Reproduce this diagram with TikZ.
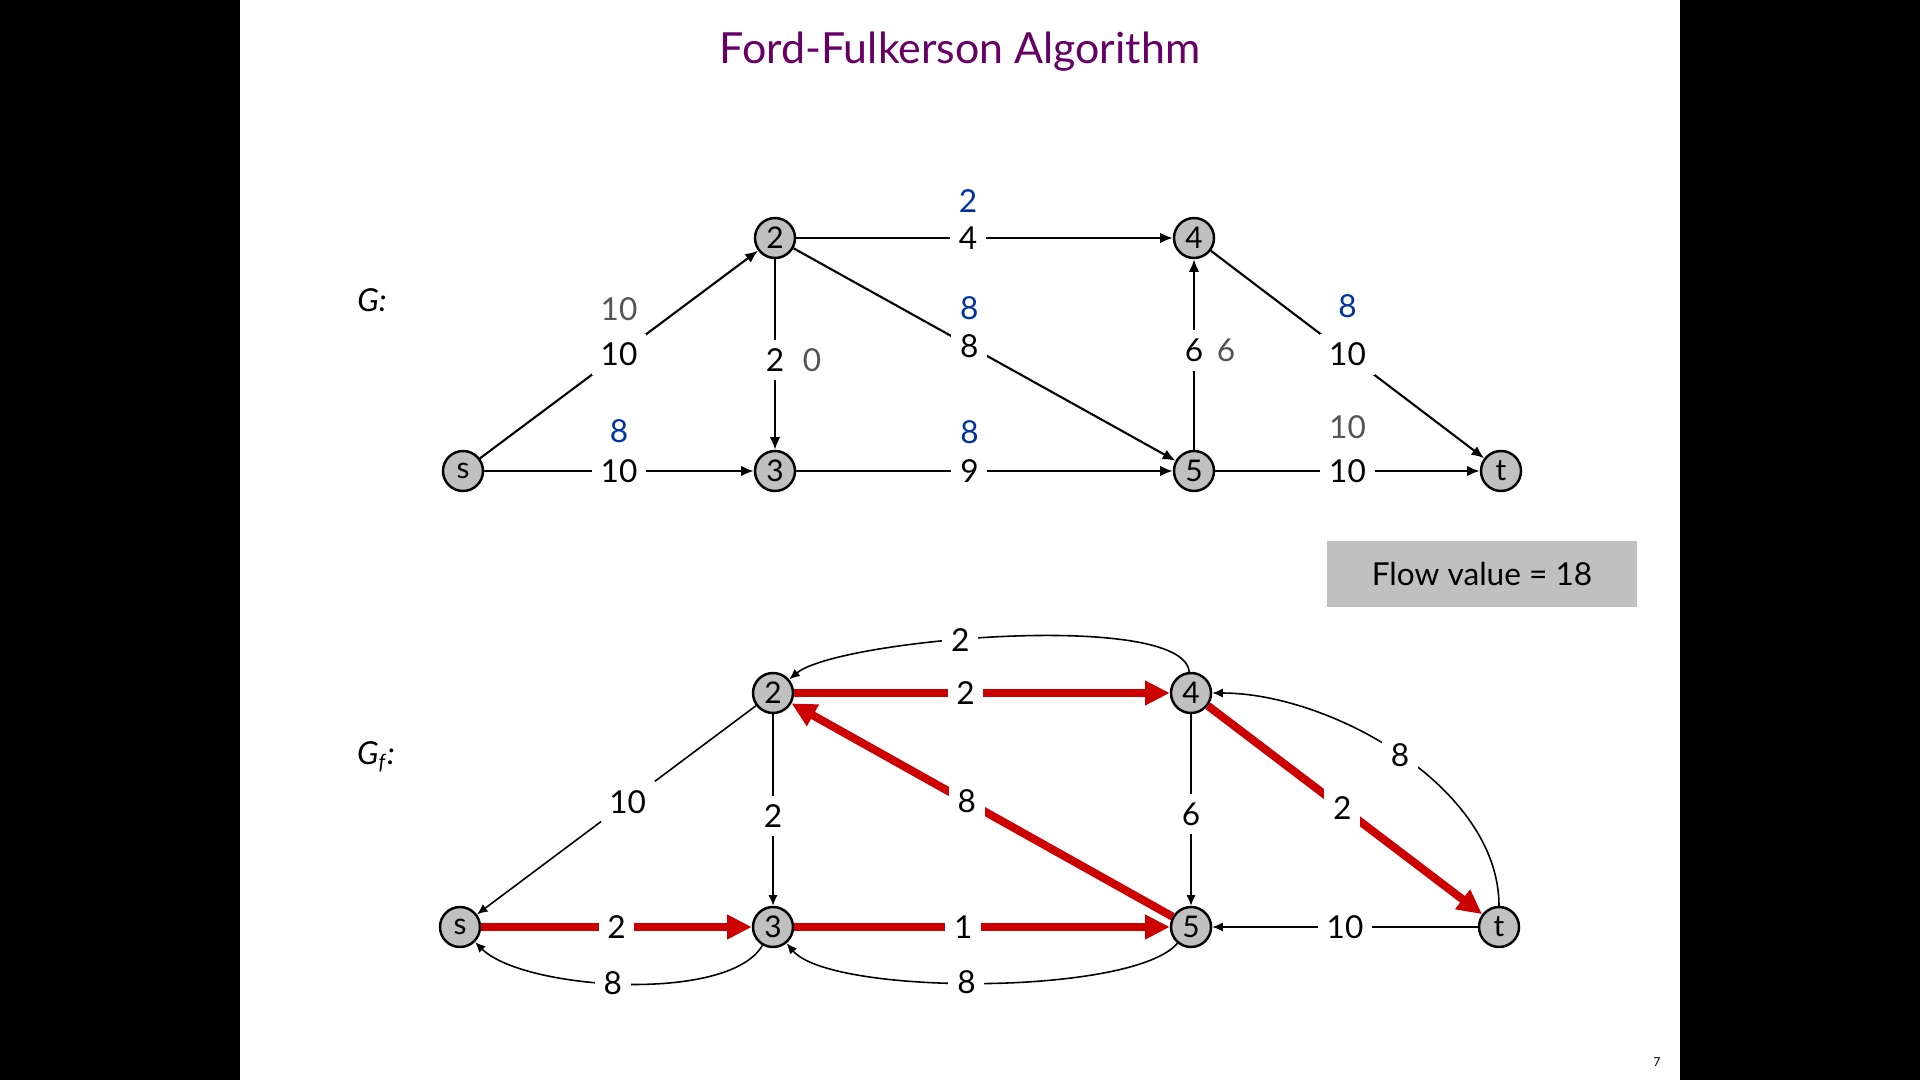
\documentclass[tikz,border=0pt]{standalone}
\usepackage{fontspec}
\setmainfont{Lato}
\usepackage{xcolor}
\usetikzlibrary{positioning,arrows.meta}
\definecolor{titlepurple}{RGB}{102,0,102}
\definecolor{flowblue}{RGB}{0,51,160}
\definecolor{flowgray}{RGB}{85,85,85}
\definecolor{nodegray}{RGB}{192,192,192}
\definecolor{pathred}{RGB}{204,0,0}

\begin{document}
\begin{tikzpicture}[
    vertex/.style={circle, draw, line width=0.7pt, fill=nodegray, minimum size=0.4cm,
      inner sep=0pt, font=\fontsize{8.5}{9}\selectfont},
    flowarc/.style={line width=0.6pt, -{Latex[length=3.6pt,width=3pt]}},
    residarc/.style={line width=0.45pt, -{Latex[length=3pt,width=2.6pt]}},
    augarc/.style={line width=2.3pt, draw=pathred, -{Triangle[length=7pt,width=6.6pt]}},
    caplabel/.style={fill=white, inner sep=2.5pt, font=\fontsize{9}{10}\selectfont},
    flowlabel/.style={on grid, font=\fontsize{9}{10}\selectfont},
  ]
  % Slide background
  \fill[black] (0,0) rectangle (19.2,-10.8);
  \fill[white] (2.4,0) rectangle (16.8,-10.8);

  % Title
  \node[font=\fontsize{12.2}{14}\selectfont, text=titlepurple] (title) at (9.6,-0.52)
    {Ford-Fulkerson Algorithm};

  % Graph G with flow
  \node[font=\fontsize{9}{10}\selectfont] (glabel) at (3.72,-3.00) {\itshape G:};

  \node[vertex] (s) at (4.63,-4.71) {s};
  \node[vertex] (v2) at (7.75,-2.38) {2};
  \node[vertex] (v3) at (7.75,-4.71) {3};
  \node[vertex] (v4) at (11.94,-2.38) {4};
  \node[vertex] (v5) at (11.94,-4.71) {5};
  \node[vertex] (t) at (15.01,-4.71) {t};

  \draw[flowarc] (s) -- node[caplabel, pos=0.5] (cs2) {10} (v2);
  \draw[flowarc] (s) -- node[caplabel, pos=0.5] (cs3) {10} (v3);
  \draw[flowarc] (v2) -- node[caplabel, pos=0.53] (c23) {2} (v3);
  \draw[flowarc] (v2) -- node[caplabel, pos=0.456] (c24) {4} (v4);
  \draw[flowarc] (v2) -- node[caplabel, pos=0.46] (c25) {8} (v5);
  \draw[flowarc] (v3) -- node[caplabel, pos=0.46] (c35) {9} (v5);
  \draw[flowarc] (v5) -- node[caplabel, pos=0.52] (c54) {6} (v4);
  \draw[flowarc] (v4) -- node[caplabel, pos=0.5] (c4t) {10} (t);
  \draw[flowarc] (v5) -- node[caplabel, pos=0.5] (c5t) {10} (t);

  % Flow values
  \node[flowlabel, text=flowgray, above=0.45cm of cs2] (fs2) {10};
  \node[flowlabel, text=flowblue, above=0.40cm of cs3] (fs3) {8};
  \node[flowlabel, text=flowgray, right=0.37cm of c23] (f23) {0};
  \node[flowlabel, text=flowblue, above=0.37cm of c24] (f24) {2};
  \node[flowlabel, text=flowblue, above=0.38cm of c25] (f25) {8};
  \node[flowlabel, text=flowblue, above=0.39cm of c35] (f35) {8};
  \node[flowlabel, text=flowgray, right=0.32cm of c54] (f54) {6};
  \node[flowlabel, text=flowblue, above=0.48cm of c4t] (f4t) {8};
  \node[flowlabel, text=flowgray, above=0.44cm of c5t] (f5t) {10};

  \node[fill=nodegray, minimum width=3.10cm, minimum height=0.66cm,
    font=\fontsize{9}{10}\selectfont] (fvalue) at (14.82,-5.74) {Flow value = 18};

  % Residual graph
  \node[font=\fontsize{9}{10}\selectfont] (gflabel) at (3.76,-7.57) {\itshape G\textsubscript{f}:};

  \node[vertex] (rs) at (4.60,-9.27) {s};
  \node[vertex] (r2) at (7.73,-6.93) {2};
  \node[vertex] (r3) at (7.73,-9.27) {3};
  \node[vertex] (r4) at (11.91,-6.93) {4};
  \node[vertex] (r5) at (11.91,-9.27) {5};
  \node[vertex] (rt) at (14.99,-9.27) {t};

  \draw[residarc] (r2) -- node[caplabel, pos=0.46] (d2s) {10} (rs);
  \draw[residarc] (r2) -- node[caplabel, pos=0.53] (d23) {2} (r3);
  \draw[residarc] (r4) -- node[caplabel, pos=0.52] (d45) {6} (r5);
  \draw[residarc] (rt) -- node[caplabel, pos=0.5] (dt5) {10} (r5);
  \draw[residarc] (r3) to[out=-120, in=-45, looseness=0.6] node[caplabel, pos=0.53] (d3s) {8} (rs);
  \draw[residarc] (r5) to[out=-130, in=-50, looseness=0.45] node[caplabel, pos=0.53] (d53) {8} (r3);
  \draw[residarc] (r4) to[out=95, in=40, looseness=0.4] node[caplabel, pos=0.58] (d42) {2} (r2);
  \draw[residarc] (rt) to[out=90, in=0, looseness=0.85] node[caplabel, pos=0.5] (dt4) {8} (r4);

  % Augmenting path
  \draw[augarc] (rs) -- node[caplabel, pos=0.5] (ds3) {2} (r3);
  \draw[augarc] (r3) -- node[caplabel, pos=0.45] (d35) {1} (r5);
  \draw[augarc] (r5) -- node[caplabel, pos=0.54] (d52) {8} (r2);
  \draw[augarc] (r2) -- node[caplabel, pos=0.456] (d24) {2} (r4);
  \draw[augarc] (r4) -- node[caplabel, pos=0.49] (d4t) {2} (rt);

  \node[font=\fontsize{3.5}{4}\selectfont] (pagenum) at (16.57,-10.62) {7};
\end{tikzpicture}
\end{document}
